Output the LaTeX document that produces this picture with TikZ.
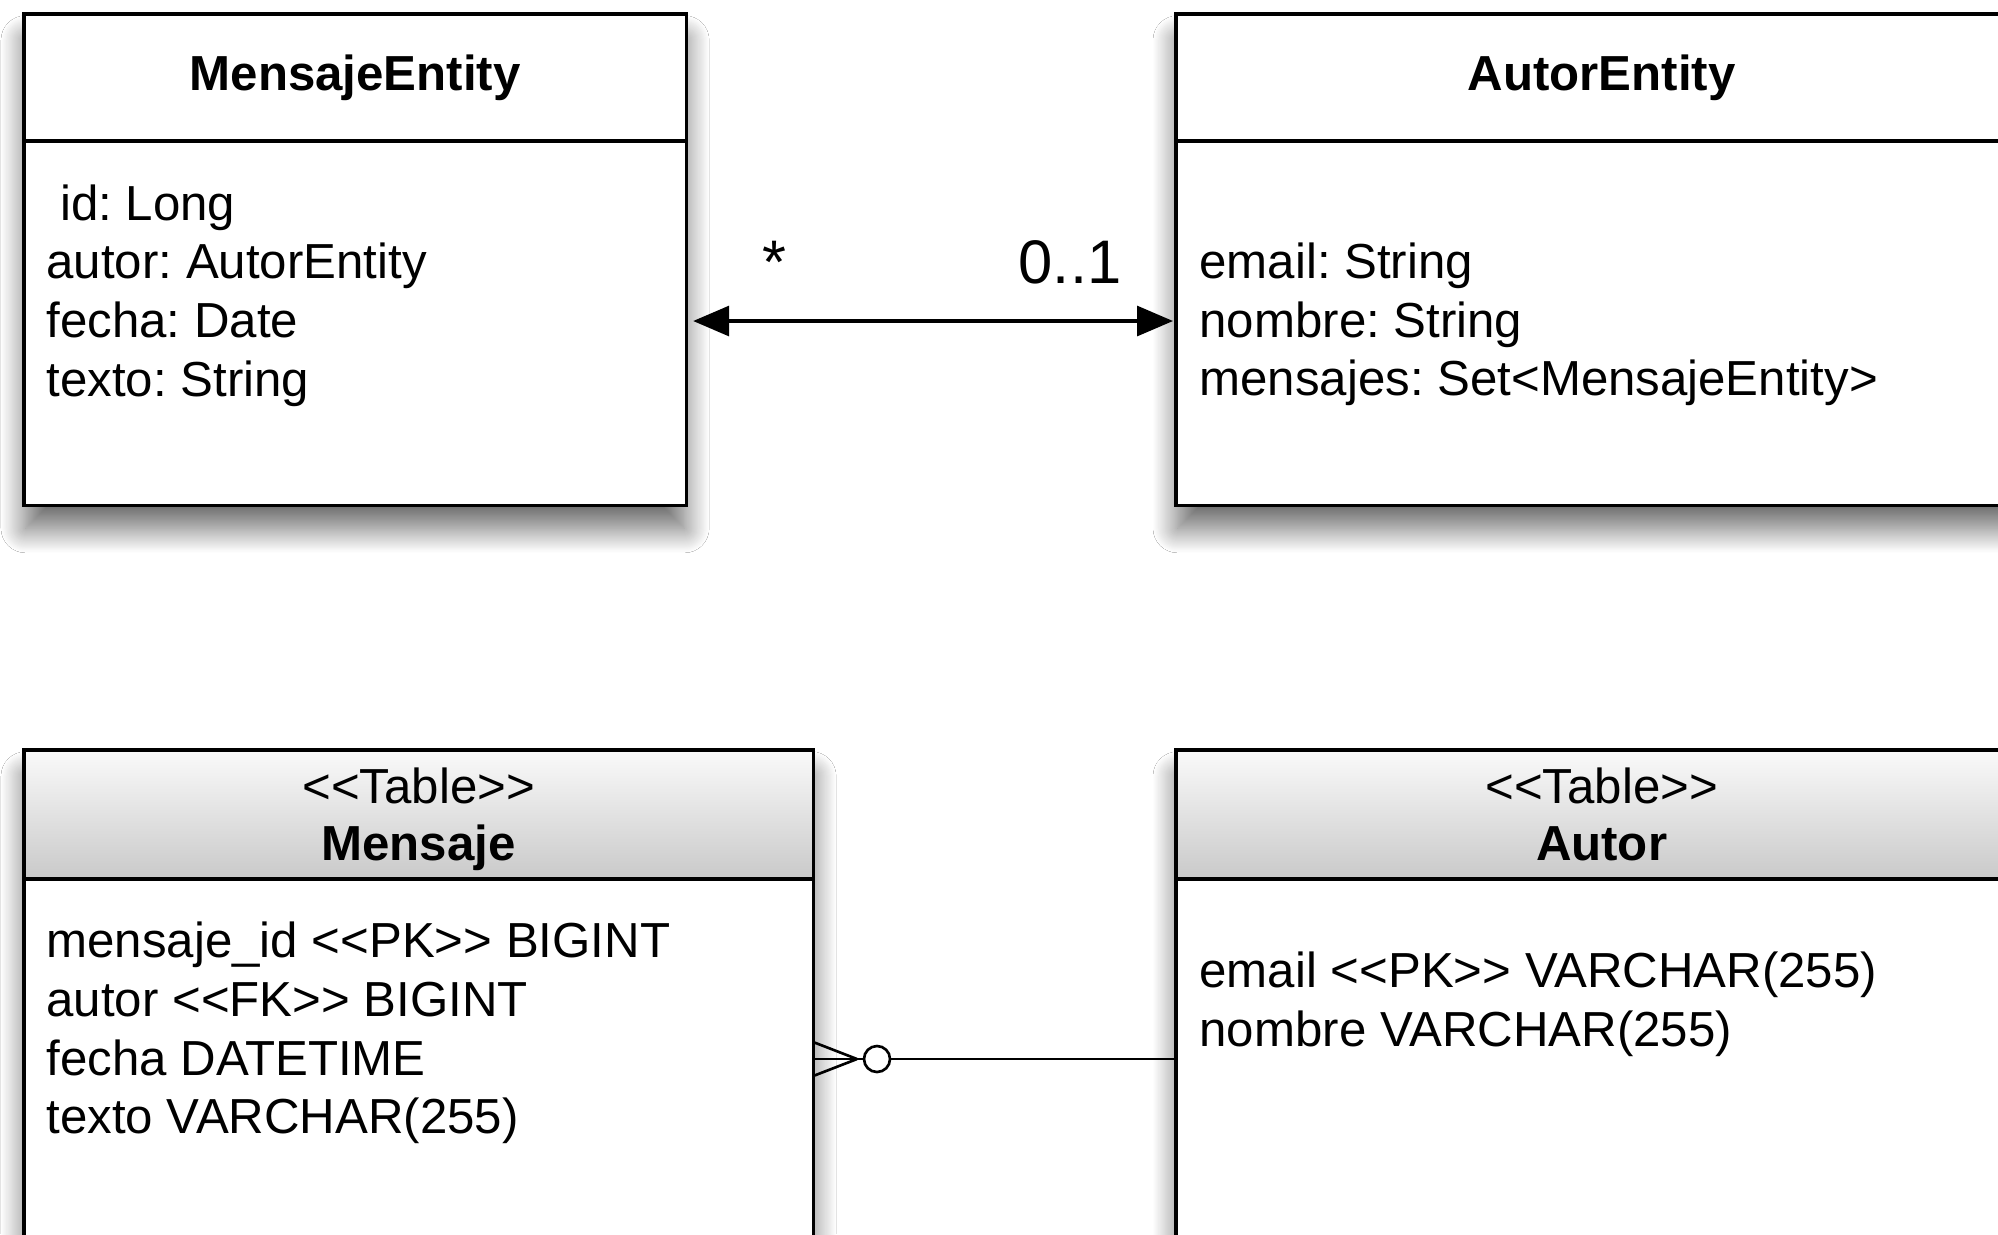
\documentclass[tikz,border=0pt]{standalone}
\usepackage{fontspec}
\setmainfont{Liberation Sans}
\usetikzlibrary{arrows.meta, positioning, calc, shadows.blur}
\frenchspacing
\newcommand{\stereo}[1]{<{}<#1>{}>}

\tikzset{
  umlbox/.style={fill=white, anchor=north west, inner sep=0pt,
    blur shadow={shadow xshift=0pt, shadow yshift=-7pt, shadow blur radius=7pt,
      shadow blur steps=24, shadow opacity=60}},
  attrs/.style={align=left, anchor=west, inner sep=0pt, font=\fontsize{14}{16.7}\selectfont},
  title/.style={align=center, inner sep=0pt, text depth=0.1cm, font=\fontsize{14}{16.2}\selectfont},
  mult/.style={anchor=base, inner sep=0pt, font=\fontsize{17.5}{20}\selectfont},
}

\begin{document}
\begin{tikzpicture}[>={Triangle[length=3.6mm, width=3mm]}, line width=0.9pt]
  \useasboundingbox (0,0) rectangle (19.98,-12.34);
  \fill[white] (0,0) rectangle (19.98,-12.34);
  \clip (0,0) rectangle (19.98,-12.34);

  % Entity classes
  \node[umlbox, minimum width=6.59cm, minimum height=4.88cm] (mentity) at (0.24,-0.14) {};
  \node[umlbox, minimum width=8.48cm, minimum height=4.88cm] (aentity) at (11.76,-0.14) {};
  \draw (mentity.north west) rectangle (mentity.south east);
  \draw (aentity.north west) rectangle (aentity.south east);
  \draw ($(mentity.north west)+(0,-1.27)$) -- ($(mentity.north east)+(0,-1.27)$);
  \draw ($(aentity.north west)+(0,-1.27)$) -- ($(aentity.north east)+(0,-1.27)$);

  \node[title] (mtitle) at ($(mentity.north)+(0,-0.64)$) {\bfseries MensajeEntity};
  \node[title] (atitle) at ($(aentity.north)+(0,-0.64)$) {\bfseries AutorEntity};
  \node[attrs] (mattrs) at (0.45,-2.955) {\ id: Long\\autor: AutorEntity\\fecha: Date\\texto: String};
  \node[attrs] (aattrs) at (11.98,-3.245) {email: String\\nombre: String\\mensajes: Set<MensajeEntity>};

  % Association
  \coordinate (assoc) at (0,-3.21);
  \draw[<->] ($(mentity.east |- assoc)+(0.07,0)$) -- ($(aentity.west |- assoc)+(-0.03,0)$);
  \node[mult] (many) at (7.74,-2.83) {*};
  \node[mult] (opt) at (10.70,-2.83) {0..1};

  % Tables
  \node[umlbox, minimum width=7.86cm, minimum height=5.3cm] (mtable) at (0.24,-7.50) {};
  \node[umlbox, minimum width=8.48cm, minimum height=5.3cm] (atable) at (11.76,-7.50) {};
  \shade[top color=black!2, bottom color=black!21] (mtable.north west) rectangle ($(mtable.north east)+(0,-1.29)$);
  \shade[top color=black!2, bottom color=black!21] (atable.north west) rectangle ($(atable.north east)+(0,-1.29)$);
  \draw (mtable.north west) rectangle (mtable.south east);
  \draw (atable.north west) rectangle (atable.south east);
  \draw ($(mtable.north west)+(0,-1.29)$) -- ($(mtable.north east)+(0,-1.29)$);
  \draw ($(atable.north west)+(0,-1.29)$) -- ($(atable.north east)+(0,-1.29)$);

  \node[title] (mhead) at ($(mtable.north)+(0,-0.69)$) {\stereo{Table}\\\bfseries Mensaje};
  \node[title] (ahead) at ($(atable.north)+(0,-0.69)$) {\stereo{Table}\\\bfseries Autor};
  \node[attrs] (mcols) at (0.45,-10.33) {mensaje\_id \stereo{PK} BIGINT\\autor \stereo{FK} BIGINT\\fecha DATETIME\\texto VARCHAR(255)};
  \node[attrs] (acols) at (11.98,-10.04) {email \stereo{PK} VARCHAR(255)\\nombre VARCHAR(255)};

  % Foreign key
  \coordinate (crow) at (0,-10.59);
  \coordinate (crowtip) at (8.57,-10.59);
  \draw[line width=0.75pt] (mtable.east |- crow) -- (atable.west |- crow);
  \draw[line width=0.75pt] (crowtip) -- ($(mtable.east |- crow)+(0,0.17)$);
  \draw[line width=0.75pt] (crowtip) -- ($(mtable.east |- crow)+(0,-0.17)$);
  \node[circle, draw, fill=white, minimum size=0.26cm, inner sep=0pt, line width=0.75pt] (zero) at (8.77,-10.59) {};
\end{tikzpicture}
\end{document}
